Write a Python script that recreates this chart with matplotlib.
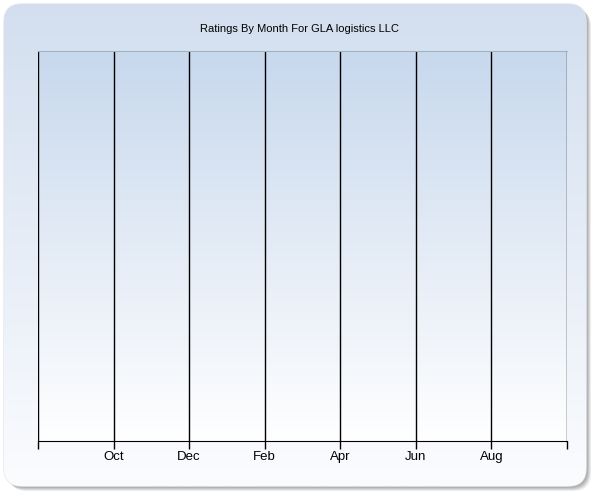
import numpy as np
import matplotlib
matplotlib.use('Agg')
import matplotlib.pyplot as plt
from matplotlib.patches import FancyBboxPatch
from matplotlib.colors import LinearSegmentedColormap

# chart data (no rating values in the picture, only the month axis)
title = 'Ratings By Month For GLA logistics LLC'
tick_pos = [0, 1, 2, 3, 4, 5, 6, 7]
tick_labels = ['', 'Oct', 'Dec', 'Feb', 'Apr', 'Jun', 'Aug', '']

plt.rcParams['font.family'] = ['Liberation Sans', 'DejaVu Sans']

fig = plt.figure(figsize=(6, 5), dpi=100)
fig.patch.set_facecolor('white')
W, H = 600, 500

# background layer in pixel coords
bg = fig.add_axes([0, 0, 1, 1])
bg.axis('off')

# soft shadow, bottom-right
for i, a in enumerate([0.10, 0.12, 0.14, 0.16, 0.18]):
    sh = FancyBboxPatch((9 - i * 0.8, 9 - i * 0.8), 582, 482,
                        boxstyle='round,pad=0,rounding_size=18', fc='#707070', ec='none',
                        alpha=a, zorder=0)
    bg.add_patch(sh)

box = FancyBboxPatch((4, 4), 582, 482, boxstyle='round,pad=0,rounding_size=18',
                     fc='white', ec='#e4e8ee', lw=1.0, zorder=1)
bg.add_patch(box)
bg_cmap = LinearSegmentedColormap.from_list('bg', ['#d3dfef', '#e6edf7', '#fbfcfe'])
grad = np.linspace(0, 1, 256).reshape(-1, 1)
im = bg.imshow(grad, cmap=bg_cmap, extent=[4, 586, 486, 4], aspect='auto', zorder=2)
im.set_clip_path(box)
bg.set_xlim(0, W)
bg.set_ylim(H, 0)

fig.text(0.5, 1 - 29 / H, title, ha='center', va='center', fontsize=8, color='#000000')

# plot area
ax = fig.add_axes([38 / W, 1 - 441 / H, (567 - 38) / W, (441 - 51) / H])
ax.set_facecolor('none')
plot_cmap = LinearSegmentedColormap.from_list('pl', ['#c8d8ed', '#ffffff'])
ax.imshow(grad, cmap=plot_cmap, extent=[tick_pos[0], tick_pos[-1], 0, 1], aspect='auto', zorder=0)
ax.set_xlim(tick_pos[0], tick_pos[-1])
ax.set_ylim(0, 1)
ax.set_yticks([])
ax.set_xticks(tick_pos)
ax.set_xticklabels(tick_labels, fontsize=9.5)
ax.tick_params(axis='x', direction='out', length=6, width=1, color='black', pad=1)
for x in tick_pos:
    ax.axvline(x, color='black', lw=1, zorder=2)
ax.spines['top'].set_color('#a3b1c6')
ax.spines['right'].set_visible(False)
ax.spines['left'].set_visible(False)
ax.spines['bottom'].set_color('black')

fig.savefig('out.png', dpi=100)
